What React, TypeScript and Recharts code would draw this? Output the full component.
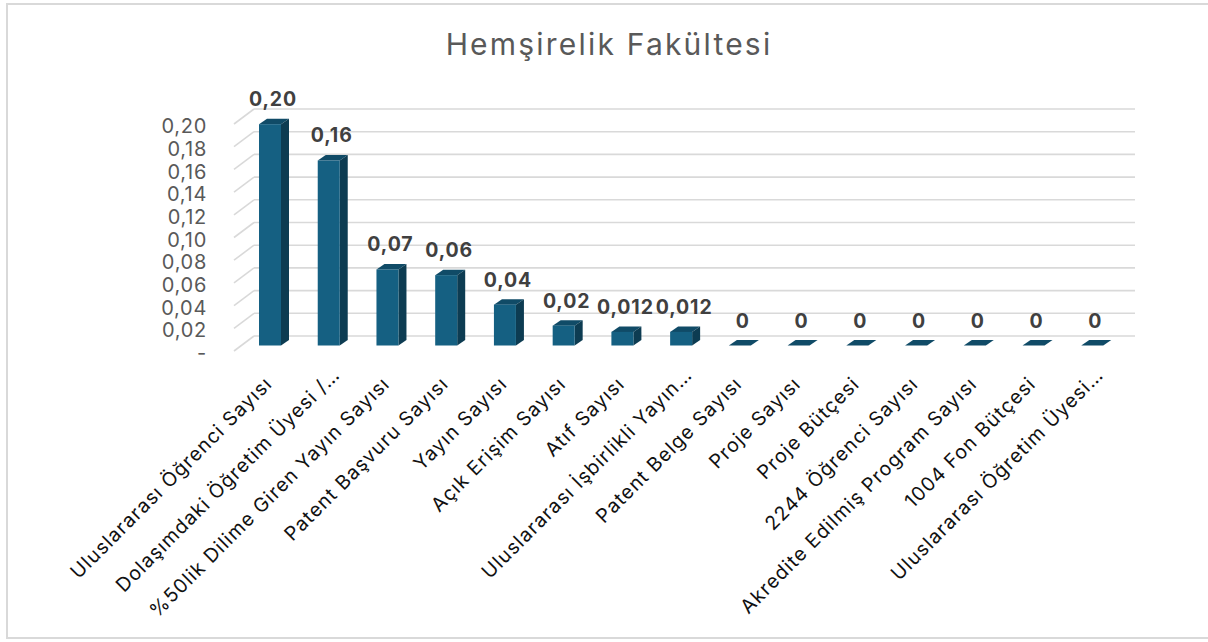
import React from "react";
import { BarChart, Bar, XAxis, YAxis, CartesianGrid, LabelList } from "recharts";

const categories = [
  "Uluslararası Öğrenci Sayısı",
  "Dolaşımdaki Öğretim Üyesi /…",
  "%50lik Dilime Giren Yayın Sayısı",
  "Patent Başvuru Sayısı",
  "Yayın Sayısı",
  "Açık Erişim Sayısı",
  "Atıf Sayısı",
  "Uluslararası İşbirlikli Yayın…",
  "Patent Belge Sayısı",
  "Proje Sayısı",
  "Proje Bütçesi",
  "2244 Öğrenci Sayısı",
  "Akredite Edilmiş Program Sayısı",
  "1004 Fon Bütçesi",
  "Uluslararası Öğretim Üyesi…",
];
const values = [0.195, 0.163, 0.067, 0.062, 0.036, 0.0175, 0.012, 0.012, 0, 0, 0, 0, 0, 0, 0];
const valueLabels = ["0,20", "0,16", "0,07", "0,06", "0,04", "0,02", "0,012", "0,012", "0", "0", "0", "0", "0", "0", "0"];
const yTicks = [0, 0.02, 0.04, 0.06, 0.08, 0.1, 0.12, 0.14, 0.16, 0.18, 0.2];

const data = categories.map((name, i) => ({ name, value: values[i], label: valueLabels[i] }));

const FONT = "Inter, 'Noto Sans', sans-serif";
const OX = 7, OY = -5.5, DX = 8, DY = -5.5;
const WALL_DX = 20, WALL_DY = -15;

const Bar3D = (props: any) => {
  const { x, y, width, height } = props;
  const fx = x + OX, fy = y + OY, w = width, h = Math.max(0, height);
  return (
    <g>
      <path d={`M${fx},${fy}L${fx + DX},${fy + DY}L${fx + w + DX},${fy + DY}L${fx + w},${fy}Z`} fill="#104b67" />
      {h > 0 && (
        <path d={`M${fx + w},${fy}L${fx + w + DX},${fy + DY}L${fx + w + DX},${fy + h + DY}L${fx + w},${fy + h}Z`} fill="#0d3c52" />
      )}
      {h > 0 && <rect x={fx} y={fy} width={w} height={h} fill="#156082" />}
    </g>
  );
};

const GridLine = (props: any) => {
  const { x1, y1, x2 } = props;
  return (
    <g key={props.key}>
      <line x1={x1} y1={y1} x2={x1 + WALL_DX} y2={y1 + WALL_DY} stroke="#d9d9d9" strokeWidth={1.6} />
      <line x1={x1 + WALL_DX} y1={y1 + WALL_DY} x2={x2 + WALL_DX} y2={y1 + WALL_DY} stroke="#d9d9d9" strokeWidth={1.6} />
    </g>
  );
};

const XTick = (props: any) => {
  const { x, y, payload } = props;
  const txt = String(payload.value);
  const shift = txt.endsWith("…") ? 9 : 0;
  const ax = x + 10 + shift, ay = y + 34 - shift;
  return (
    <text x={ax} y={ay} transform={`rotate(-45, ${ax}, ${ay})`} textAnchor="end" fontFamily={FONT} fontSize={19.5} letterSpacing={1.1} fill="#111">
      {txt}
    </text>
  );
};

const ValueLabel = (props: any) => {
  const { x, y, width, value } = props;
  const cx = x + OX + width / 2 + 3;
  const by = y + OY - 18;
  return (
    <text x={cx} y={by} textAnchor="middle" fontFamily={FONT} fontSize={19.5} fontWeight={700} letterSpacing={0.9} fill="#404040">
      {value}
    </text>
  );
};

const fmtY = (v: number) => (v === 0 ? "-" : v.toFixed(2).replace(".", ","));

export default function App() {
  return (
    <div style={{ position: "absolute", left: 0, top: 0, width: 1208, height: 642, background: "#fff", overflow: "hidden" }}>
      <div style={{ position: "absolute", left: 6, top: 3, width: 1220, height: 636, border: "2px solid #d9d9d9", boxSizing: "border-box" }} />
      <div style={{ position: "absolute", left: 0, top: 26, width: 1218, textAlign: "center", fontFamily: FONT, fontSize: 30, letterSpacing: 2.2, color: "#595959" }}>
        Hemşirelik Fakültesi
      </div>
      <div style={{ position: "absolute", left: 0, top: 0 }}>
        <BarChart width={1208} height={642} data={data} margin={{ top: 124, right: 93, bottom: 0, left: 174 }}>
          <CartesianGrid vertical={false} horizontal={GridLine} />
          <XAxis dataKey="name" interval={0} tick={<XTick />} tickLine={false} axisLine={false} tickSize={0} tickMargin={0} height={291} />
          <YAxis
            width={60}
            domain={[0, 0.2]}
            ticks={yTicks}
            interval={0}
            tickFormatter={fmtY}
            tickLine={false}
            axisLine={false}
            tickSize={0}
            tickMargin={27}
            tick={{ fontFamily: FONT, fontSize: 20, letterSpacing: 0.7, fill: "#595959", dy: 2 }}
          />
          <Bar dataKey="value" barSize={22} shape={<Bar3D />} isAnimationActive={false}>
            <LabelList dataKey="label" content={<ValueLabel />} />
          </Bar>
        </BarChart>
      </div>
    </div>
  );
}
